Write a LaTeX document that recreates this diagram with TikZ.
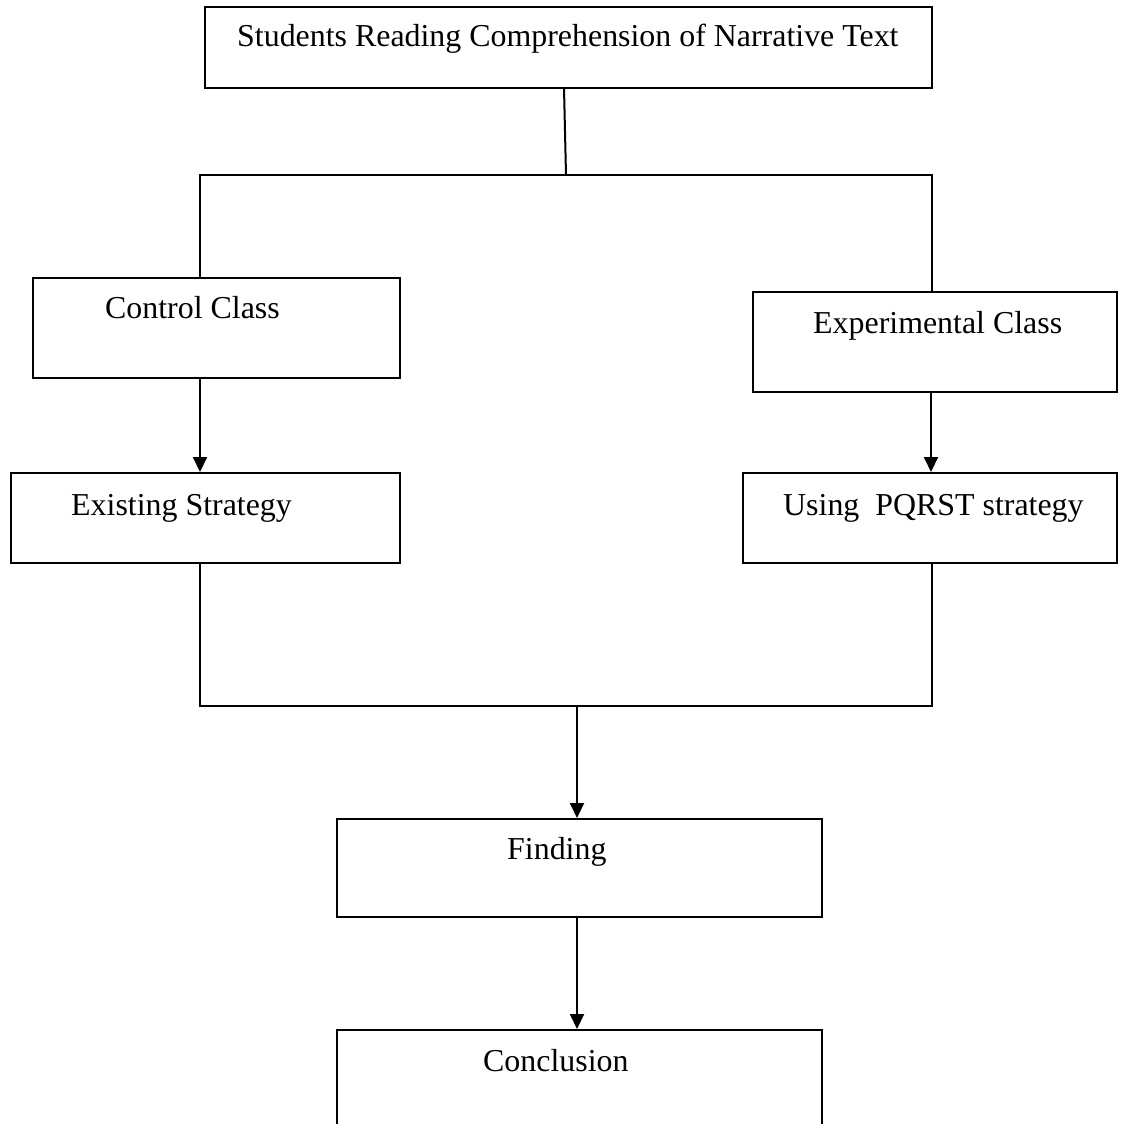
\documentclass[tikz,border=0pt]{standalone}
\usepackage{fontspec}
\setmainfont{Liberation Serif}
\usetikzlibrary{arrows.meta}
\begin{document}
\begin{tikzpicture}[x=1pt,y=-1pt,
  box/.style={draw=black,line width=2pt,inner sep=0pt,fill=none},
  lbl/.style={anchor=base west,inner sep=0pt,font=\fontsize{31.9}{38}\selectfont},
  conn/.style={draw=black,line width=2pt},
  arr/.style={conn,-{Triangle[length=15pt,width=14pt]}}]
\useasboundingbox (0,0) rectangle (1120,1124);
% boxes
\node[box,minimum width=727pt,minimum height=81pt] (top) at (568.5,47.5) {};
\node[box,minimum width=367pt,minimum height=100pt] (ctrl) at (216.5,328) {};
\node[box,minimum width=364pt,minimum height=100pt] (expc) at (935,342) {};
\node[box,minimum width=389pt,minimum height=90pt] (exst) at (205.5,518) {};
\node[box,minimum width=374pt,minimum height=90pt] (pqrst) at (930,518) {};
\node[box,minimum width=485pt,minimum height=98pt] (find) at (579.5,868) {};
\node[box,minimum width=485pt,minimum height=98pt] (concl) at (579.5,1079) {};
% texts
\node[lbl] (topt) at (237,47) {Students Reading Comprehension of Narrative Text};
\node[lbl] (ctrlt) at (105,318) {Control Class};
\node[lbl] (expct) at (813,333) {Experimental Class};
\node[lbl] (exstt) at (71,515) {Existing Strategy};
\node[lbl] (pqrstt) at (783,515) {Using\ \ PQRST strategy};
\node[lbl] (findt) at (507,859) {Finding};
\node[lbl] (conclt) at (483,1071) {Conclusion};
% junction coordinates
\coordinate (ts) at (564,88);
\coordinate (tj) at (566,175);
\coordinate (jl) at (200,175);
\coordinate (jr) at (932,175);
\coordinate (bl) at (200,706);
\coordinate (br) at (932,706);
\coordinate (bm) at (577,706);
% connectors
\draw[conn] (ts) -- (tj);
\draw[conn] (jl |- ctrl.north) -- (jl) -- (jr) -- (jr |- expc.north);
\draw[arr] (jl |- ctrl.south) -- (jl |- exst.north);
\draw[arr] (931,392) coordinate (es) -- (es |- pqrst.north);
\draw[conn] (jl |- exst.south) -- (bl) -- (br) -- (br |- pqrst.south);
\draw[arr] (bm) -- (bm |- find.north);
\draw[arr] (bm |- find.south) -- (bm |- concl.north);
\end{tikzpicture}
\end{document}
